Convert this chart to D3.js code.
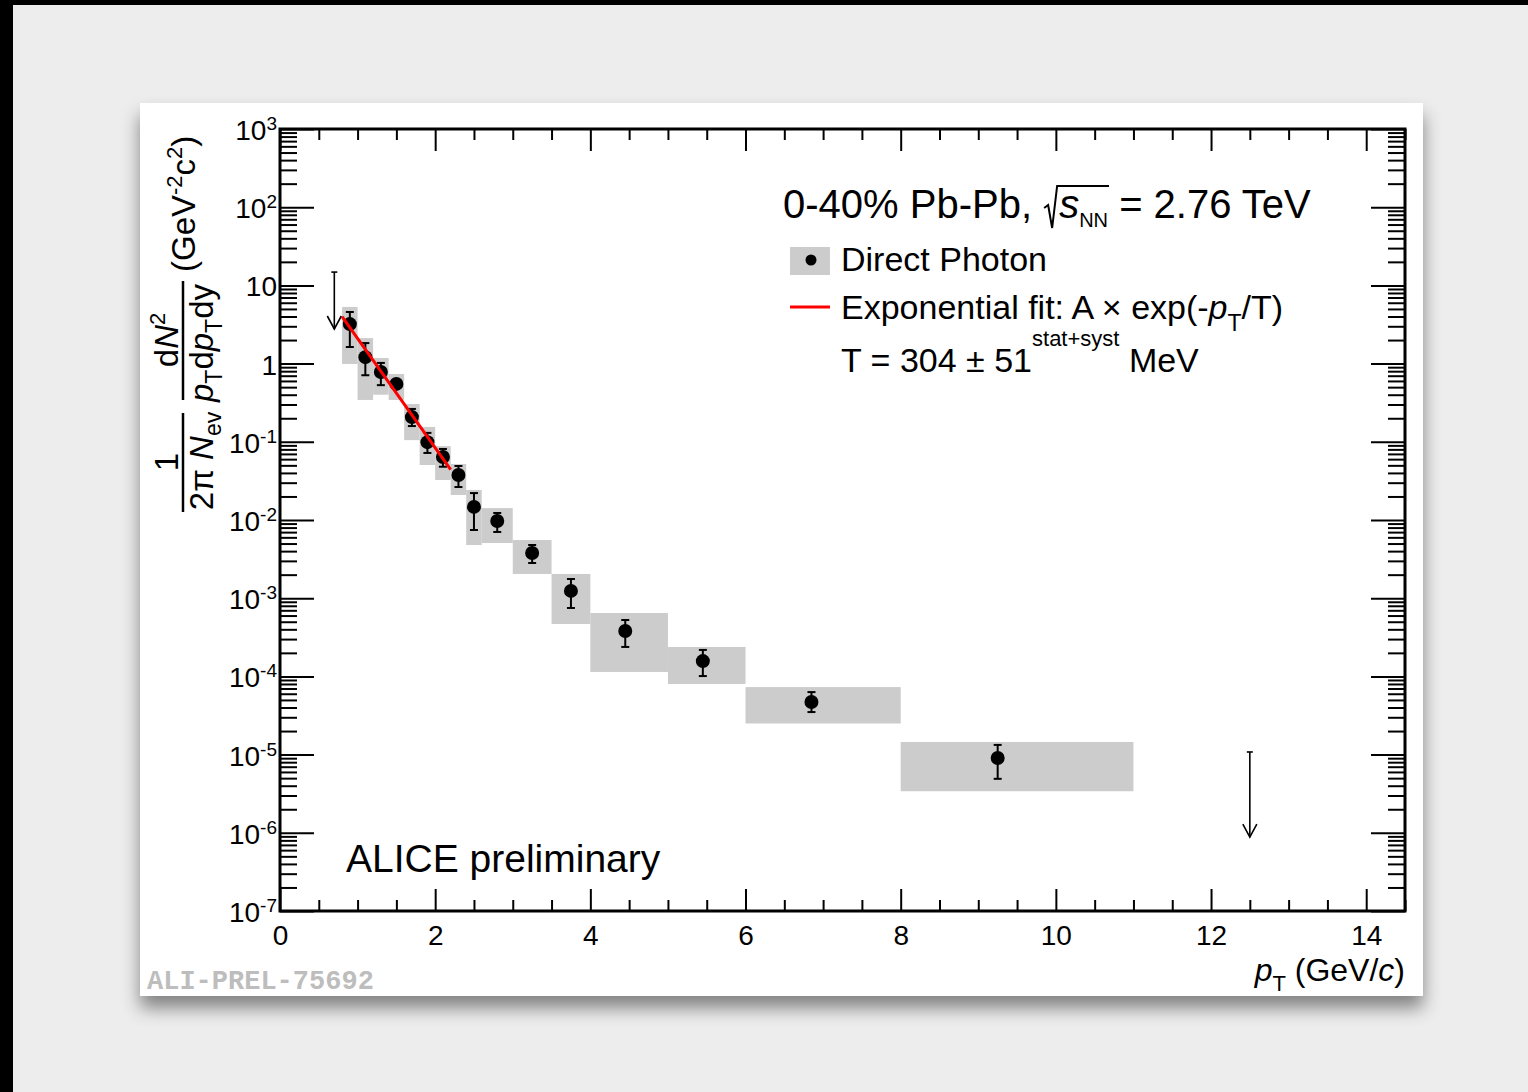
<!DOCTYPE html>
<html>
<head>
<meta charset="utf-8">
<script src="https://cdn.jsdelivr.net/npm/d3@7"></script>
<style>
body { margin: 0; background: #ededed; }
svg text { font-family: "Liberation Sans", Arial, Helvetica, sans-serif; fill: #000; }
</style>
</head>
<body>
<svg id="chart" width="1528" height="1092"></svg>
<script>
// ---- data ----
const ptCenter = [0.9, 1.1, 1.3, 1.5, 1.7, 1.9, 2.1, 2.3, 2.5, 2.8, 3.25, 3.75, 4.45, 5.45, 6.85, 9.25];
const binLow   = [0.8, 1.0, 1.2, 1.4, 1.6, 1.8, 2.0, 2.2, 2.4, 2.6, 3.0, 3.5, 4.0, 5.0, 6.0, 8.0];
const binHigh  = [1.0, 1.2, 1.4, 1.6, 1.8, 2.0, 2.2, 2.4, 2.6, 3.0, 3.5, 4.0, 5.0, 6.0, 8.0, 11.0];
const yieldVal = [3.2, 1.21, 0.78, 0.55, 0.207, 0.099, 0.064, 0.0376, 0.0147, 0.0097, 0.00379, 0.00124, 3.81e-4, 1.57e-4, 4.7e-5, 9.05e-6];
const statHi   = [4.57, 1.83, 1.02, 0.60, 0.263, 0.130, 0.081, 0.049, 0.0221, 0.0123, 0.00479, 0.00176, 5.26e-4, 2.18e-4, 6.3e-5, 1.33e-5];
const statLo   = [1.63, 0.71, 0.53, 0.50, 0.159, 0.072, 0.048, 0.0264, 0.00745, 0.00703, 0.00282, 7.5e-4, 2.38e-4, 1.01e-4, 3.5e-5, 4.9e-6];
const sysHi    = [5.3, 2.12, 1.18, 0.736, 0.304, 0.155, 0.088, 0.052, 0.0242, 0.0142, 0.00555, 0.00204, 6.47e-4, 2.38e-4, 7.3e-5, 1.45e-5];
const sysLo    = [0.99, 0.343, 0.40, 0.343, 0.105, 0.0505, 0.0325, 0.0209, 0.00479, 0.00508, 0.00204, 4.68e-4, 1.14e-4, 8.0e-5, 2.5e-5, 3.4e-6];

// upper limits (arrow from limit down)
const ulX   = [0.7, 12.5];
const ulTop = [14.8, 1.08e-5];
const ulTip = [2.77, 8.8e-7];

// exponential fit, straight on log scale: end points
const fitX = [0.8, 2.2];
const fitY = [4.0, 0.044];

const xMajor = [0, 2, 4, 6, 8, 10, 12, 14];
const yDecades = [-7, -6, -5, -4, -3, -2, -1, 0, 1, 2, 3];

// ---- layout ----
const svg = d3.select("#chart");
const L = 280, R = 1405, T = 129, B = 911;

const x = d3.scaleLinear().domain([0, 14.5]).range([L, R]);
const y = d3.scaleLog().domain([1e-7, 1e3]).range([B, T]);

// page frame
svg.append("rect").attr("width", 1528).attr("height", 5).attr("fill", "#000");
svg.append("rect").attr("width", 13).attr("height", 1092).attr("fill", "#000");

const defs = svg.append("defs");
const f = defs.append("filter").attr("id", "shadow")
  .attr("x", "-10%").attr("y", "-10%").attr("width", "120%").attr("height", "125%");
f.append("feDropShadow").attr("dx", 0).attr("dy", 12).attr("stdDeviation", 9)
  .attr("flood-color", "#000").attr("flood-opacity", 0.45);

svg.append("rect").attr("x", 140).attr("y", 103).attr("width", 1283).attr("height", 893)
  .attr("fill", "#fff").attr("filter", "url(#shadow)");

// ---- axes ticks ----
const xMinor = d3.range(0, 14.51, 0.5).filter(v => v % 2 !== 0);
const yMajor = yDecades.map(e => Math.pow(10, e));
const yMinor = [];
yDecades.slice(0, -1).forEach(e => { for (let k = 2; k <= 9; k++) yMinor.push(k * Math.pow(10, e)); });

function tickGroup(axis, tx, ty) {
  const g = svg.append("g").attr("transform", `translate(${tx},${ty})`).call(axis);
  g.select(".domain").remove();
  g.selectAll(".tick line").attr("stroke", "#000").attr("stroke-width", 2);
  return g;
}

const xAx = tickGroup(d3.axisBottom(x).tickValues(xMajor).tickSize(-22).tickPadding(14).tickFormat(d3.format("d")), 0, B);
xAx.selectAll("text").attr("font-size", 28).attr("font-family", "Liberation Sans, Arial, sans-serif");
tickGroup(d3.axisBottom(x).tickValues(xMinor).tickSize(-11).tickFormat(""), 0, B);
tickGroup(d3.axisTop(x).tickValues(xMajor).tickSize(-22).tickFormat(""), 0, T);
tickGroup(d3.axisTop(x).tickValues(xMinor).tickSize(-11).tickFormat(""), 0, T);
tickGroup(d3.axisLeft(y).tickValues(yMajor).tickSize(-34).tickFormat(""), L, 0);
tickGroup(d3.axisLeft(y).tickValues(yMinor).tickSize(-17).tickFormat(""), L, 0);
tickGroup(d3.axisRight(y).tickValues(yMajor).tickSize(-34).tickFormat(""), R, 0);
tickGroup(d3.axisRight(y).tickValues(yMinor).tickSize(-17).tickFormat(""), R, 0);

// y tick labels 10^n
yDecades.forEach(e => {
  const t = svg.append("text").attr("x", 277).attr("y", y(Math.pow(10, e)) + 11)
    .attr("text-anchor", "end").attr("font-size", 28);
  if (e === 0) t.text("1");
  else if (e === 1) t.text("10");
  else {
    t.append("tspan").text("10");
    t.append("tspan").attr("font-size", 19).attr("dy", -10).text(e);
  }
});

// ---- data marks ----
const plot = svg.append("g");

plot.selectAll("rect.sys").data(ptCenter).enter().append("rect")
  .attr("class", "sys")
  .attr("x", (d, i) => x(binLow[i]))
  .attr("width", (d, i) => x(binHigh[i]) - x(binLow[i]))
  .attr("y", (d, i) => y(sysHi[i]))
  .attr("height", (d, i) => y(sysLo[i]) - y(sysHi[i]))
  .attr("fill", "#cccccc");

const err = plot.selectAll("g.err").data(ptCenter).enter().append("g").attr("class", "err");
err.append("line")
  .attr("x1", d => x(d)).attr("x2", d => x(d))
  .attr("y1", (d, i) => y(statHi[i])).attr("y2", (d, i) => y(statLo[i]))
  .attr("stroke", "#000").attr("stroke-width", 2);
err.append("line")
  .attr("x1", d => x(d) - 4).attr("x2", d => x(d) + 4)
  .attr("y1", (d, i) => y(statHi[i])).attr("y2", (d, i) => y(statHi[i]))
  .attr("stroke", "#000").attr("stroke-width", 2);
err.append("line")
  .attr("x1", d => x(d) - 4).attr("x2", d => x(d) + 4)
  .attr("y1", (d, i) => y(statLo[i])).attr("y2", (d, i) => y(statLo[i]))
  .attr("stroke", "#000").attr("stroke-width", 2);

plot.selectAll("circle.pt").data(ptCenter).enter().append("circle")
  .attr("class", "pt")
  .attr("cx", d => x(d)).attr("cy", (d, i) => y(yieldVal[i])).attr("r", 7)
  .attr("fill", "#000");

// upper limit arrows
ulX.forEach((v, i) => {
  const g = plot.append("g").attr("stroke", "#000").attr("stroke-width", 1.6).attr("fill", "none");
  const xs = x(v), y0 = y(ulTop[i]), y1 = y(ulTip[i]);
  g.append("line").attr("x1", xs).attr("x2", xs).attr("y1", y0).attr("y2", y1);
  g.append("line").attr("x1", xs - 3).attr("x2", xs + 3).attr("y1", y0).attr("y2", y0);
  g.append("path").attr("d", `M${xs - 7},${y1 - 13}L${xs},${y1}L${xs + 7},${y1 - 13}`);
});

// fit line
plot.append("path")
  .datum(fitX.map((v, i) => [v, fitY[i]]))
  .attr("d", d3.line().x(d => x(d[0])).y(d => y(d[1])))
  .attr("stroke", "#ff0000").attr("stroke-width", 3).attr("fill", "none");

// frame
svg.append("rect").attr("x", L).attr("y", T).attr("width", R - L).attr("height", B - T)
  .attr("fill", "none").attr("stroke", "#000").attr("stroke-width", 3);

// ---- legend / labels ----
const title = svg.append("text").attr("x", 783).attr("y", 218).attr("font-size", 40);
title.append("tspan").text("0-40% Pb-Pb, ");
title.append("tspan").attr("dx", 16).attr("font-style", "italic").text("s");
title.append("tspan").attr("font-size", 20).attr("dy", 9).text("NN");
title.append("tspan").attr("dy", -9).text(" = 2.76 TeV");
{
  const n = title.node();
  const sBox = n.getExtentOfChar(13);
  const nnBox = n.getExtentOfChar(15);
  const x0 = sBox.x - 15, xe = nnBox.x + nnBox.width + 1;
  svg.append("path")
    .attr("d", `M${x0},${208}L${x0 + 4},${205}L${x0 + 8},${228}L${x0 + 13},${186}L${xe},${186}`)
    .attr("stroke", "#000").attr("stroke-width", 2).attr("fill", "none");
}

svg.append("rect").attr("x", 790).attr("y", 247).attr("width", 40).attr("height", 28).attr("fill", "#cccccc");
svg.append("circle").attr("cx", 811).attr("cy", 260).attr("r", 5.5).attr("fill", "#000");
svg.append("text").attr("x", 841).attr("y", 271).attr("font-size", 34).text("Direct Photon");

svg.append("line").attr("x1", 790).attr("x2", 830).attr("y1", 307).attr("y2", 307)
  .attr("stroke", "#ff0000").attr("stroke-width", 3);
const fitTxt = svg.append("text").attr("x", 841).attr("y", 319).attr("font-size", 34);
fitTxt.append("tspan").text("Exponential fit: A \u00d7 exp(-");
fitTxt.append("tspan").attr("font-style", "italic").text("p");
fitTxt.append("tspan").attr("font-size", 23).attr("dy", 12).text("T");
fitTxt.append("tspan").attr("dy", -12).text("/T)");

const tTxt = svg.append("text").attr("x", 841).attr("y", 372).attr("font-size", 34);
tTxt.append("tspan").text("T = 304 \u00b1 51");
tTxt.append("tspan").attr("font-size", 22).attr("dy", -26).text("stat+syst");
tTxt.append("tspan").attr("dy", 26).text(" MeV");

svg.append("text").attr("x", 346).attr("y", 872).attr("font-size", 39).text("ALICE preliminary");

svg.append("text").attr("x", 147).attr("y", 989)
  .attr("font-size", 27).attr("font-weight", "bold")
  .style("font-family", "'Liberation Mono', 'Courier New', monospace")
  .attr("fill", "#bdbdbd").style("fill", "#bdbdbd")
  .text("ALI-PREL-75692");

// x title
const xt = svg.append("text").attr("x", 1405).attr("y", 981).attr("text-anchor", "end").attr("font-size", 32);
xt.append("tspan").attr("font-style", "italic").text("p");
xt.append("tspan").attr("font-size", 22).attr("dy", 10).text("T");
xt.append("tspan").attr("dy", -10).text(" (GeV/");
xt.append("tspan").attr("font-style", "italic").text("c");
xt.append("tspan").text(")");

// y title, rotated: local (u,v) -> screen (v,-u)
const yt = svg.append("g").attr("transform", "rotate(-90)");
yt.append("text").attr("x", -462).attr("y", 178).attr("text-anchor", "middle").attr("font-size", 33).text("1");
yt.append("line").attr("x1", -512).attr("x2", -413).attr("y1", 183).attr("y2", 183)
  .attr("stroke", "#000").attr("stroke-width", 2.5);
const den1 = yt.append("text").attr("x", -461).attr("y", 213).attr("text-anchor", "middle").attr("font-size", 33);
den1.append("tspan").text("2\u03c0 ");
den1.append("tspan").attr("font-style", "italic").text("N");
den1.append("tspan").attr("font-size", 23).attr("dy", 8).text("ev");

const num2 = yt.append("text").attr("x", -340).attr("y", 178).attr("text-anchor", "middle").attr("font-size", 33);
num2.append("tspan").text("d");
num2.append("tspan").attr("font-style", "italic").text("N");
num2.append("tspan").attr("font-size", 22).attr("dy", -13).text("2");
yt.append("line").attr("x1", -400).attr("x2", -281).attr("y1", 183).attr("y2", 183)
  .attr("stroke", "#000").attr("stroke-width", 2.5);
const den2 = yt.append("text").attr("x", -343).attr("y", 213).attr("text-anchor", "middle").attr("font-size", 33);
den2.append("tspan").attr("font-style", "italic").text("p");
den2.append("tspan").attr("font-size", 23).attr("dy", 9).text("T");
den2.append("tspan").attr("dy", -9).text("d");
den2.append("tspan").attr("font-style", "italic").text("p");
den2.append("tspan").attr("font-size", 23).attr("dy", 9).text("T");
den2.append("tspan").attr("dy", -9).text("dy");

const unit = yt.append("text").attr("x", -272).attr("y", 195).attr("font-size", 33);
unit.append("tspan").text("(GeV");
unit.append("tspan").attr("font-size", 22).attr("dy", -13).text("-2");
unit.append("tspan").attr("dy", 13).text("c");
unit.append("tspan").attr("font-size", 22).attr("dy", -13).text("2");
unit.append("tspan").attr("dy", 13).text(")");
</script>
</body>
</html>
